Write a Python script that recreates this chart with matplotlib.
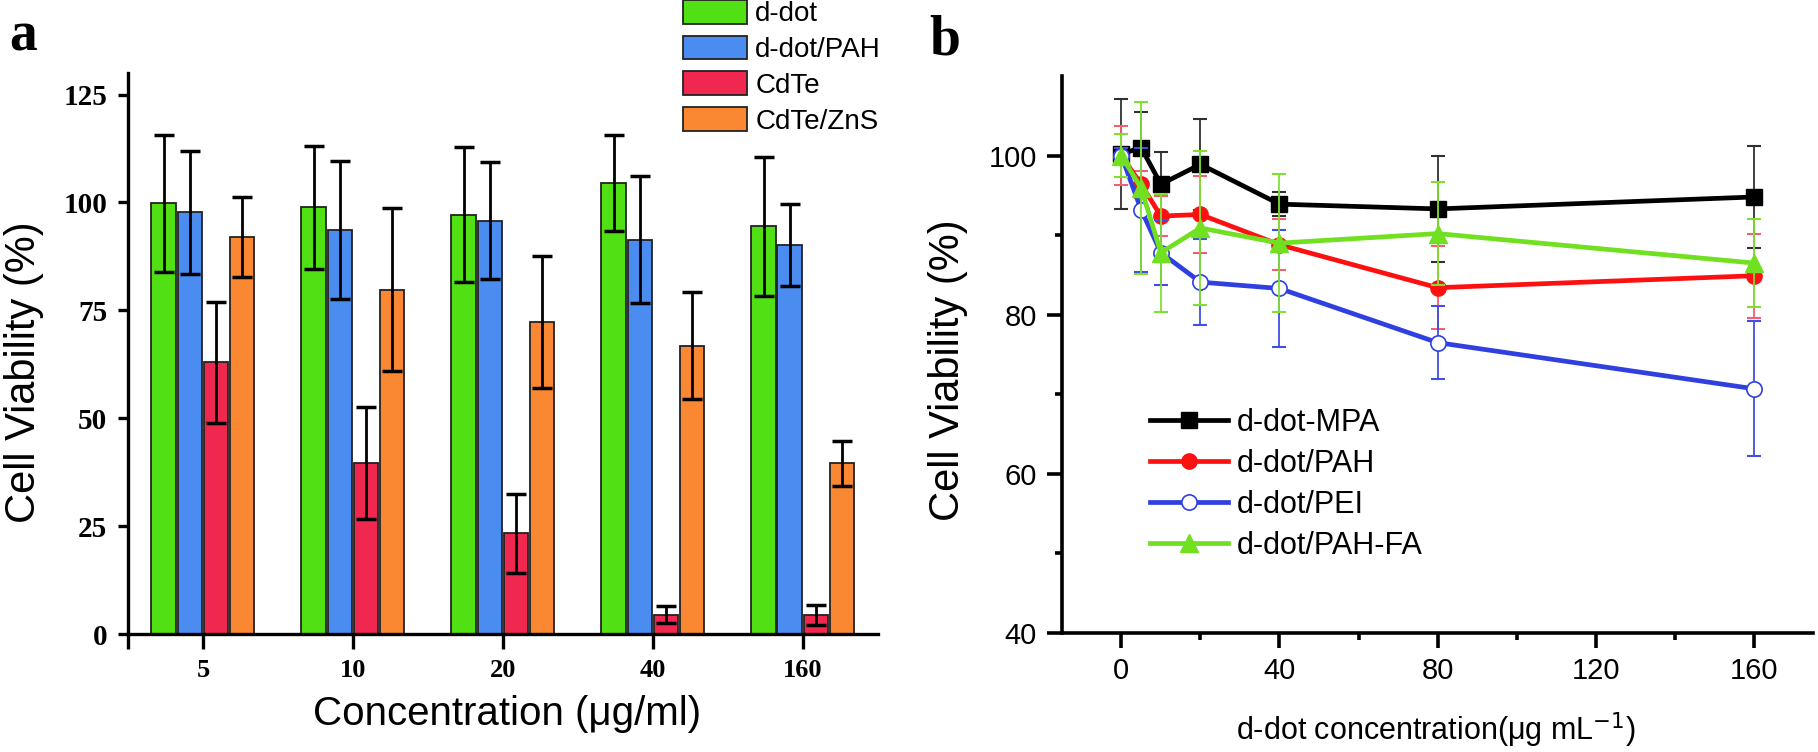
## cell viability: bar chart (a) and dose-response lines (b)

import numpy as np
import matplotlib
matplotlib.use('Agg')
import matplotlib.pyplot as plt

plt.rcParams['font.family'] = ['Liberation Sans', 'DejaVu Sans']

# panel a data
conc_labels = ['5', '10', '20', '40', '160']
bar_names = ['d-dot', 'd-dot/PAH', 'CdTe', 'CdTe/ZnS']
ddot = [99.8, 98.9, 97.2, 104.5, 94.5]
ddot_err = [15.8, 14.3, 15.7, 11.2, 16.1]
ddot_pah = [97.7, 93.7, 95.8, 91.4, 90.2]
ddot_pah_err = [14.3, 16.0, 13.5, 14.7, 9.5]
cdte = [63.0, 39.7, 23.3, 4.5, 4.4]
cdte_err = [14.0, 13.0, 9.2, 1.9, 2.3]
cdte_zns = [92.0, 79.8, 72.3, 66.8, 39.6]
cdte_zns_err = [9.3, 18.9, 15.3, 12.4, 5.2]

# panel b data
dose = [0, 5, 10, 20, 40, 80, 160]
line_names = ['d-dot-MPA', 'd-dot/PAH', 'd-dot/PEI', 'd-dot/PAH-FA']
mpa = [100.2, 101.0, 96.4, 98.9, 93.9, 93.3, 94.8]
mpa_err = [6.9, 4.5, 4.0, 5.7, 1.5, 6.7, 6.4]
pah = [100.0, 96.4, 92.4, 92.6, 88.8, 83.4, 84.9]
pah_err = [3.7, 1.7, 2.5, 4.8, 3.2, 5.2, 5.3]
pei = [100.0, 93.2, 87.8, 84.1, 83.3, 76.5, 70.7]
pei_err = [1.0, 7.8, 4.1, 5.4, 7.3, 4.6, 8.5]
pah_fa = [100.0, 95.9, 87.8, 90.9, 89.0, 90.2, 86.5]
pah_fa_err = [2.7, 10.8, 7.4, 9.7, 8.7, 6.5, 5.5]

fig = plt.figure(figsize=(18.18, 7.52), dpi=100)

## PANEL A
ax = fig.add_axes([0.0704, 0.1569, 0.4125, 0.746])
x = np.arange(len(conc_labels))
pitch = 0.174
bar_w = 0.165
bar_colors = ['#50E014', '#4A8CF0', '#F02850', '#FA8732']
series = [(ddot, ddot_err), (ddot_pah, ddot_pah_err), (cdte, cdte_err), (cdte_zns, cdte_zns_err)]
for i, (vals, errs) in enumerate(series):
    xs = x + (i - 1.5) * pitch
    ax.bar(xs, vals, bar_w, color=bar_colors[i], edgecolor='#222222', linewidth=1.3,
           label=bar_names[i], zorder=2)
    ax.errorbar(xs, vals, yerr=errs, fmt='none', ecolor='black', elinewidth=2,
                capsize=7, capthick=2.5, zorder=3)

ax.set_xlim(-0.5, 4.5)
ax.set_ylim(0, 130)
ax.set_xticks(x)
ax.set_xticklabels(conc_labels)
ax.set_xticks([-0.5], minor=True)
ax.set_yticks([0, 25, 50, 75, 100, 125])
for s in ['top', 'right']:
    ax.spines[s].set_visible(False)
for s in ['left', 'bottom']:
    ax.spines[s].set_linewidth(2.4)
ax.tick_params(axis='x', which='both', direction='out', length=11, width=2.4, pad=7)
ax.tick_params(axis='y', direction='out', length=7, width=2.4, pad=8)
for lab in ax.get_xticklabels():
    lab.set_fontfamily('Liberation Serif')
    lab.set_fontweight('bold')
    lab.set_fontsize(19)
for lab in ax.get_yticklabels():
    lab.set_fontfamily('Liberation Serif')
    lab.set_fontweight('bold')
    lab.set_fontsize(21)
ax.set_xlabel('Concentration (\u03bcg/ml)', fontsize=29, va='center')
ax.xaxis.set_label_coords(0.505, -0.142)
ax.set_ylabel('Cell Viability (%)', fontsize=30, va='center')
ax.yaxis.set_label_coords(-0.139, 0.467)
ax.legend(loc='upper left', bbox_to_anchor=(0.74, 1.13), frameon=False, fontsize=20,
          handlelength=2.3, handleheight=0.93, handletextpad=0.3, labelspacing=0.3,
          borderpad=0, borderaxespad=0)

## PANEL B
bx = fig.add_axes([0.5842, 0.1582, 0.4131, 0.7407])
line_style = [
    (mpa, mpa_err, '#000000', '#303030', 's', '#000000'),
    (pah, pah_err, '#FF1010', '#F06070', 'o', '#FF1010'),
    (pei, pei_err, '#3040E0', '#4050E0', 'o', 'white'),
    (pah_fa, pah_fa_err, '#70E020', '#80E030', '^', '#70E020'),
]
msizes = [11, 11, 11, 13]
for i, (vals, errs, lc, ec, mk, mfc) in enumerate(line_style):
    bx.errorbar(dose, vals, yerr=errs, fmt='none', ecolor=ec, elinewidth=1.3,
                capsize=5, capthick=1.5, zorder=2 + i)
    bx.plot(dose, vals, color=lc, lw=3.4, marker=mk, markersize=msizes[i],
            markerfacecolor=mfc, markeredgecolor=lc, markeredgewidth=1.2 if mfc == 'white' else 1,
            label=line_names[i], zorder=2 + i)

bx.set_xlim(-15, 175)
bx.set_ylim(40, 110)
bx.set_xticks([0, 40, 80, 120, 160])
bx.set_xticks([20, 60, 100, 140], minor=True)
bx.set_yticks([40, 60, 80, 100])
bx.set_yticks([50, 70, 90], minor=True)
for s in ['top', 'right']:
    bx.spines[s].set_visible(False)
for s in ['left', 'bottom']:
    bx.spines[s].set_linewidth(2.6)
bx.tick_params(which='major', direction='out', length=11, width=2.6, labelsize=21)
bx.tick_params(which='minor', direction='out', length=5, width=2.6)
bx.tick_params(axis='x', which='major', pad=6)
bx.tick_params(axis='y', which='major', pad=7)
bx.set_xlabel('d-dot concentration(\u03bcg mL$^{-1}$)', fontsize=22, va='center')
bx.xaxis.set_label_coords(0.498, -0.175)
bx.set_ylabel('Cell Viability (%)', fontsize=30, va='center')
bx.yaxis.set_label_coords(-0.152, 0.472)
bx.legend(loc='upper left', bbox_to_anchor=(0.117, 0.404), frameon=False, fontsize=22,
          handlelength=2.55, handletextpad=0.3, labelspacing=0.36, borderpad=0,
          borderaxespad=0)

# panel letters
fig.text(0.005, 0.933, 'a', fontsize=40, fontweight='bold', family='Liberation Serif')
fig.text(0.511, 0.927, 'b', fontsize=40, fontweight='bold', family='Liberation Serif')

fig.savefig('out.png', dpi=100)
